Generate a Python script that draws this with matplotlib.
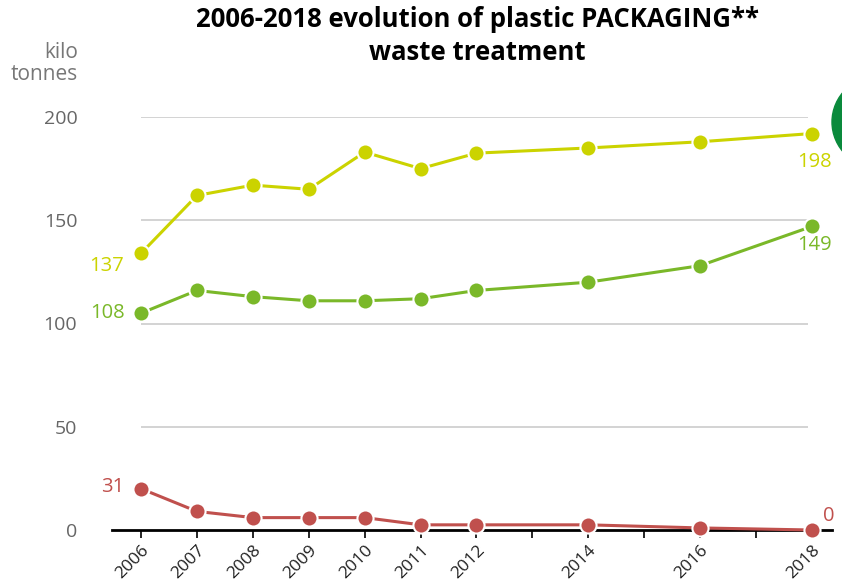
import matplotlib.pyplot as plt
from matplotlib.patches import Ellipse

plt.rcParams["font.family"] = ["Open Sans", "DejaVu Sans"]

# ── data (kilo tonnes) ───────────────────────────────────
years = [2006, 2007, 2008, 2009, 2010, 2011, 2012, 2014, 2016, 2018]
series_a = [134, 162, 167, 165, 183, 175, 182.5, 185, 188, 192]   # yellow
series_b = [105, 116, 113, 111, 111, 112, 116, 120, 128, 147]     # green
series_c = [20, 9, 6, 6, 6, 2.5, 2.5, 2.5, 1, 0]                  # red
start_labels = ["137", "108", "31"]
end_labels = ["198", "149", "0"]
yticks = [0, 50, 100, 150, 200]
tick_years = list(range(2006, 2019))

colors = ["#cbd300", "#7ab829", "#c0504d"]

fig = plt.figure(figsize=(8.42, 5.88), dpi=100)
ax = fig.add_axes([112 / 842, 58 / 588, 720 / 842, 413 / 588])
ax.set_xlim(2005.48, 2018.36)
ax.set_ylim(0, 200)

# grid lines (stop short of the axes edges)
for v in yticks[1:]:
    ax.hlines(v, 2006, 2017.93, color="#cccccc", linewidth=1.2, zorder=1)

for ys, c in zip([series_a, series_b, series_c], colors):
    ax.plot(years, ys, color=c, linewidth=2.2, zorder=3, clip_on=False)
    ax.scatter(years, ys, s=135, color=c, edgecolors="white", linewidths=1.5,
               zorder=4, clip_on=False)

# end labels
lab_kw = dict(fontsize=14.5)
ax.text(years[0] - 0.3, series_a[0] - 6, start_labels[0], color=colors[0],
        ha="right", va="center", **lab_kw)
ax.text(years[0] - 0.3, series_b[0], start_labels[1], color=colors[1],
        ha="right", va="center", **lab_kw)
ax.text(years[0] - 0.3, series_c[0] + 1, start_labels[2], color=colors[2],
        ha="right", va="center", **lab_kw)
ax.text(years[-1] + 0.05, series_a[-1] - 14, end_labels[0], color=colors[0],
        ha="center", va="center", **lab_kw)
ax.text(years[-1] + 0.05, series_b[-1] - 9, end_labels[1], color=colors[1],
        ha="center", va="center", **lab_kw)
ax.text(years[-1] + 0.3, series_c[-1] + 7, end_labels[2], color=colors[2],
        ha="center", va="center", **lab_kw)

# axes styling
for sp in ["top", "right", "left"]:
    ax.spines[sp].set_visible(False)
ax.spines["bottom"].set_linewidth(2)
ax.spines["bottom"].set_color("black")

ax.set_xticks(tick_years)
ax.set_xticklabels([str(y) if y in years else "" for y in tick_years],
                   rotation=45, ha="right", rotation_mode="anchor",
                   fontsize=12.5, color="#222222")
ax.tick_params(axis="x", length=6, width=1.2, color="black", pad=3)

ax.set_yticks(yticks)
ax.set_yticklabels([str(v) for v in yticks], fontsize=14, color="#666666")
ax.tick_params(axis="y", length=0, pad=25)

fig.text(78 / 842, 1 - 52 / 588, "kilo", ha="right", va="center",
         fontsize=15, color="#777777")
fig.text(78 / 842, 1 - 74 / 588, "tonnes", ha="right", va="center",
         fontsize=15, color="#777777")

fig.text(477 / 842, 1 - 36 / 588,
         "2006-2018 evolution of plastic PACKAGING**\nwaste treatment",
         ha="center", va="center", fontsize=18.5, fontweight="bold",
         linespacing=1.3)

# partially visible badge on the right edge
fig.patches.append(Ellipse((882 / 842, 1 - 122 / 588), 100 / 842, 95 / 588,
                           transform=fig.transFigure, color="#0a8a3c"))

fig.savefig("out.png", dpi=100)
